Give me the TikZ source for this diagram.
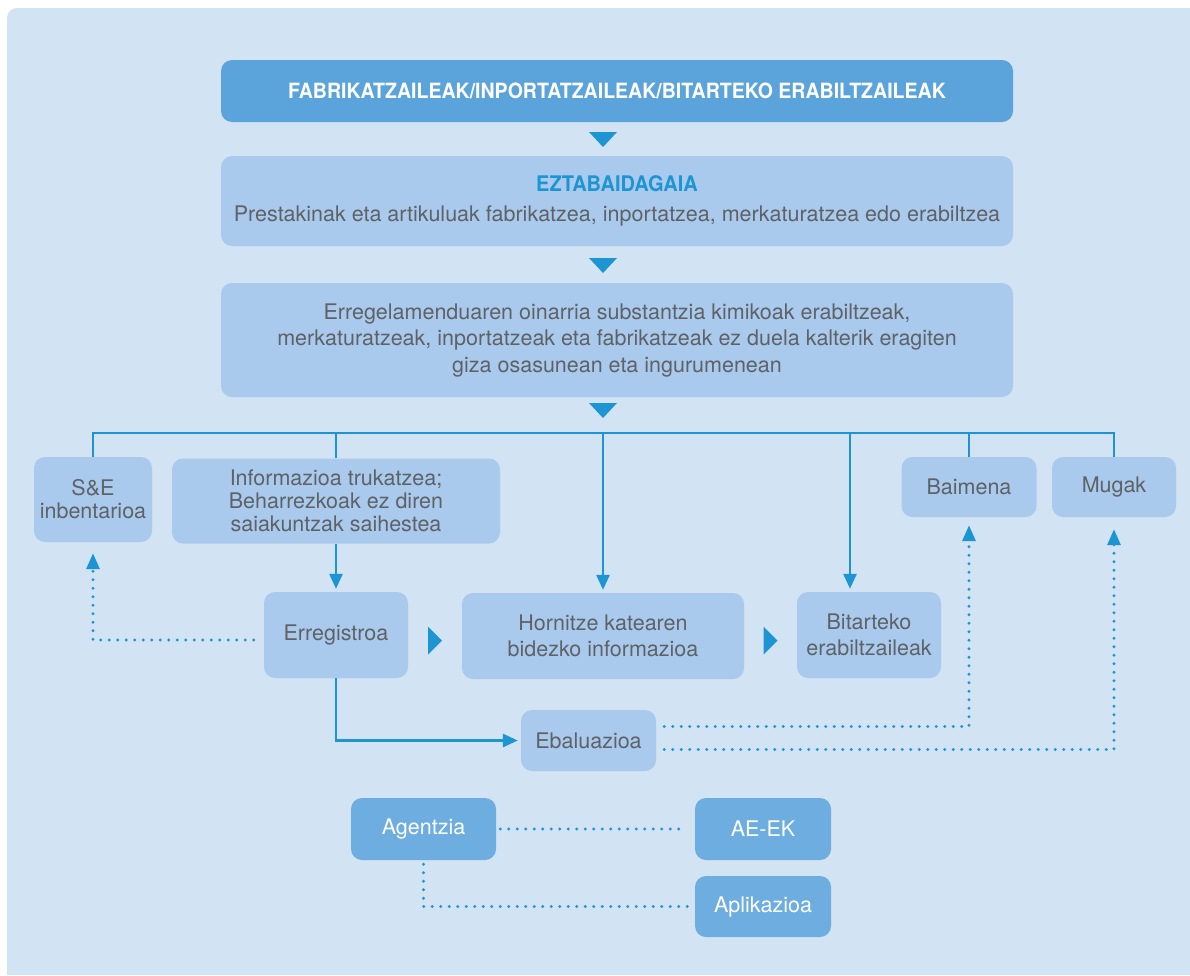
\documentclass[tikz,border=0pt]{standalone}
\usepackage{fontspec}
\setmainfont{TeX Gyre Heros}
\newfontfamily\titlefont[FakeStretch=0.93]{TeX Gyre Heros}
\usetikzlibrary{arrows.meta,calc}
\definecolor{panel}{HTML}{D2E3F3}
\definecolor{topblue}{HTML}{5AA4DB}
\definecolor{boxblue}{HTML}{A9CAEC}
\definecolor{darkbox}{HTML}{6DADE0}
\definecolor{accent}{HTML}{1E95D3}
\definecolor{txt}{HTML}{5E6266}

\begin{document}
\begin{tikzpicture}[x=1pt,y=-1pt,
    box/.style={fill=boxblue, rounded corners=11pt, text=txt, align=center,
        font=\fontsize{21.5}{23}\selectfont, inner sep=0pt},
    dbox/.style={box, fill=darkbox, text=white},
    line/.style={draw=accent, line width=2.8pt},
    arr/.style={line, -{Triangle[length=15pt,width=13pt]}, shorten >=3pt},
    dots/.style={draw=accent, line width=3.2pt, line cap=round, dash pattern=on 0pt off 8.5pt},
    dotarr/.style={dots, -{Triangle[length=16pt,width=13pt]}},
    tridown/.style={fill=accent}]
\useasboundingbox (0,0) rectangle (1190,975);
\fill[panel] (7,975) -- (7,18) arc (180:270:10) -- (1190,8) -- (1190,975) -- cycle;

% top part
\node[box, fill=topblue, text=white, minimum width=792pt, minimum height=62pt,
    font=\titlefont\bfseries\fontsize{21}{22}\selectfont] (top) at (617,91)
    {FABRIKATZAILEAK/INPORTATZAILEAK/BITARTEKO ERABILTZAILEAK};
\node[box, minimum width=792pt, minimum height=90pt, font=\fontsize{21.5}{30}\selectfont] (subj) at (617,201)
    {{\color{accent}\titlefont\bfseries\fontsize{21.5}{22}\selectfont EZTABAIDAGAIA}\\
    Prestakinak eta artikuluak fabrikatzea, inportatzea, merkaturatzea edo erabiltzea};
\node[box, minimum width=792pt, minimum height=114pt, font=\fontsize{21.5}{26.5}\selectfont] (base) at (617,340)
    {Erregelamenduaren oinarria substantzia kimikoak erabiltzeak,\\
    merkaturatzeak, inportatzeak eta fabrikatzeak ez duela kalterik eragiten\\
    giza osasunean eta ingurumenean};

\foreach \y in {139,265,410}
    \fill[tridown] (589,\y-7) -- (617,\y-7) -- (603,\y+8) -- cycle;

% second row
\node[box, minimum width=118pt, minimum height=85pt] (se) at (93,499.5) {S\&E\\inbentarioa};
\node[box, minimum width=328pt, minimum height=85pt] (info) at (336,501)
    {Informazioa trukatzea;\\Beharrezkoak ez diren\\saiakuntzak saihestea};
\node[box, minimum width=135pt, minimum height=60pt] (baim) at (969,487) {Baimena};
\node[box, minimum width=124pt, minimum height=60pt] (muga) at (1114,487) {Mugak};

\node[box, minimum width=144pt, minimum height=86pt] (erreg) at (336,635) {Erregistroa};
\node[box, minimum width=282pt, minimum height=86pt, font=\fontsize{21.5}{26}\selectfont] (horn) at (603,636)
    {Hornitze katearen\\bidezko informazioa};
\node[box, minimum width=144pt, minimum height=86pt, font=\fontsize{21.5}{26}\selectfont] (bit) at (869,635)
    {Bitarteko\\erabiltzaileak};
\node[box, minimum width=135pt, minimum height=61pt] (ebal) at (588.5,740.5) {Ebaluazioa};

\node[dbox, minimum width=145pt, minimum height=62pt] (agen) at (423.5,829) {Agentzia};
\node[dbox, minimum width=136pt, minimum height=62pt] (aeek) at (763,829) {AE-EK};
\node[dbox, minimum width=136pt, minimum height=61pt] (apli) at (763,906.5) {Aplikazioa};

% branching line
\coordinate (bus) at (603,433);
\draw[line] (se.north) |- (bus) -| (muga.north);
\draw[line] (info.north) -- (info.north |- bus);
\draw[line] (baim.north) -- (baim.north |- bus);
\draw[arr] (bus) -- (horn.north);
\draw[arr] (bus -| 850,0) -- (850,0 |- bit.north);
\draw[arr] (info.south) -- (erreg.north);
\draw[arr] (erreg.south) |- (ebal.west);

% small arrows between boxes
\foreach \a/\b in {erreg/horn,horn/bit}
    \fill[accent] ($(\a.east)!0.5!(\b.west)+(-7,-9)$) -- ++(14,14) -- ++(-14,14) -- cycle;

% dotted links
\draw[dotarr, shorten <=10pt, shorten >=11pt] (erreg.west |- 0,640) -| (se.south);
\draw[dotarr, shorten <=8pt, shorten >=8pt] ($(ebal.east)+(0,-14)$) -| (baim.south);
\draw[dotarr, shorten <=8pt, shorten >=12pt] ($(ebal.east)+(0,9)$) -| (muga.south);
\draw[dots, shorten <=4pt, shorten >=9pt] (agen.east) -- (aeek.west);
\draw[dots, shorten <=4pt, shorten >=4pt] (agen.south) |- (apli.west);
\end{tikzpicture}
\end{document}
